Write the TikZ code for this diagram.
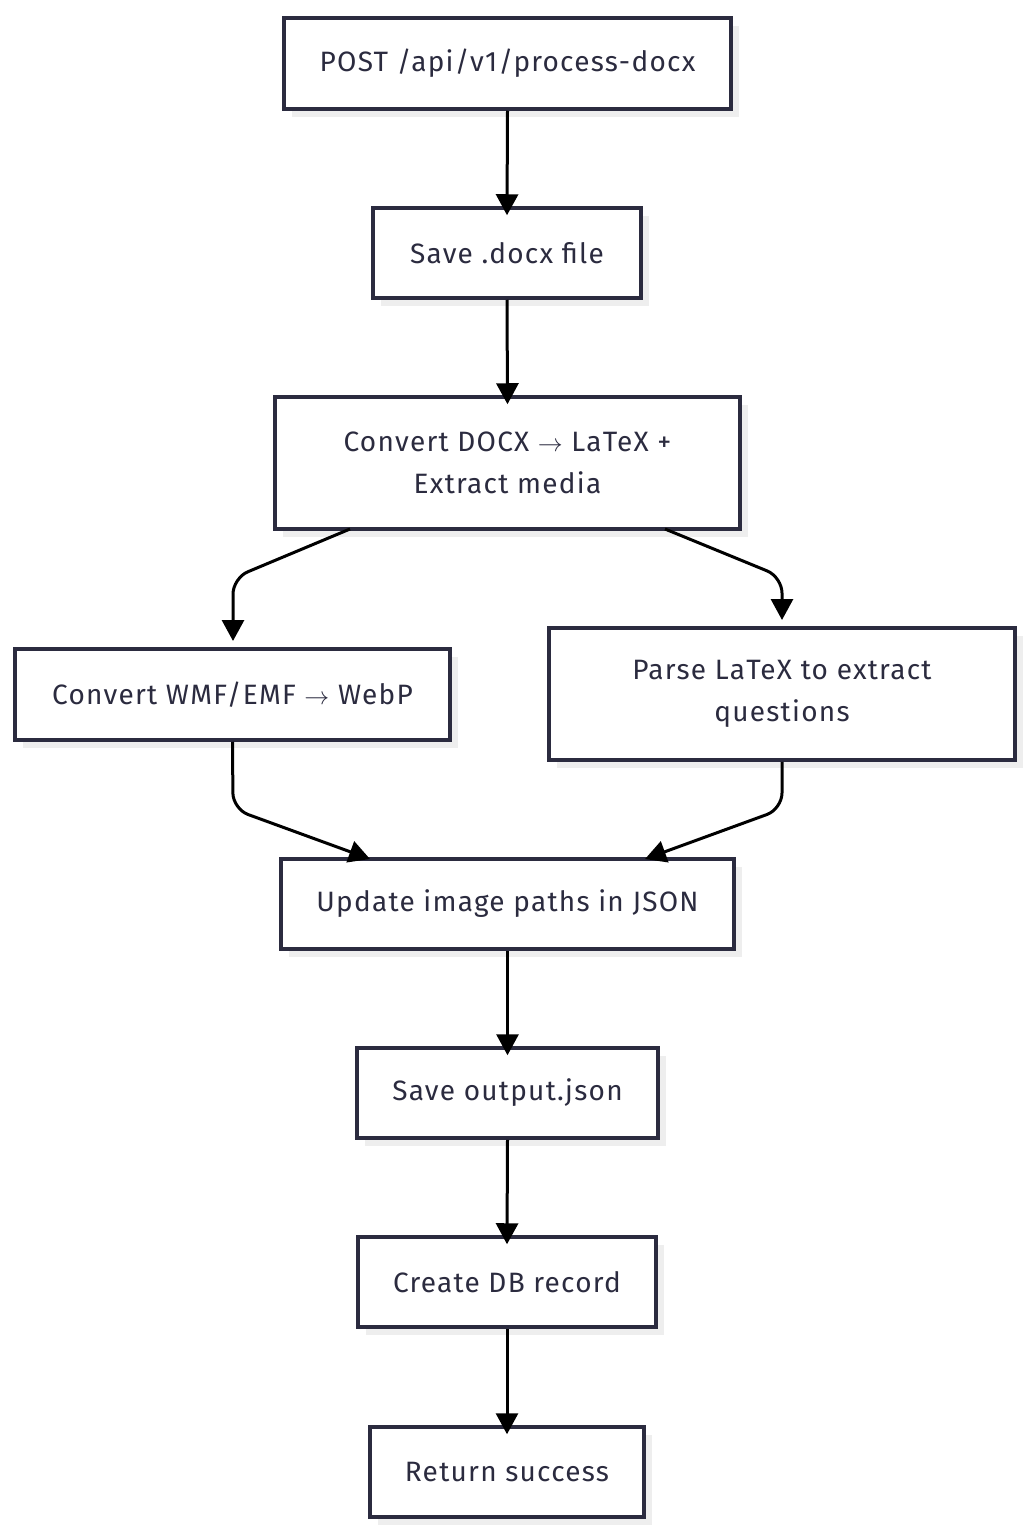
\documentclass[tikz,border=0pt]{standalone}
\usepackage{fontspec}
\setmainfont{Fira Sans}[LetterSpace=4.5]
\usetikzlibrary{arrows.meta,shadows}
\definecolor{ink}{HTML}{2B2B3F}
\definecolor{shade}{HTML}{EEEEEE}
\newcommand{\rarr}{ $\rightarrow$ }
\tikzset{
  box/.style={draw=ink, line width=3.5pt, fill=white, inner sep=0pt, align=center,
    text=ink, font=\fontsize{28}{42}\selectfont,
    general shadow={fill=shade, shadow xshift=8pt, shadow yshift=-8pt}},
  conn/.style={line width=3pt, draw=black, -{Triangle[length=21pt,width=22pt]}, rounded corners=16pt},
}
\begin{document}
\begin{tikzpicture}[x=1pt,y=-1pt]
\useasboundingbox (0,0) rectangle (1030,1536);
\node[box, minimum width=447pt, minimum height=91pt] (n1) at (507.5,63.5) {POST /api/v1/process-docx};
\node[box, minimum width=268pt, minimum height=90pt] (n2) at (507,253) {Save .docx file};
\node[box, minimum width=465pt, minimum height=132pt] (n3) at (507.5,463) {Convert DOCX\rarr LaTeX +\\Extract media};
\node[box, minimum width=435pt, minimum height=91pt] (n4) at (232.5,694.5) {Convert WMF/EMF\rarr WebP};
\node[box, minimum width=466pt, minimum height=132pt] (n5) at (782,694) {Parse LaTeX to extract\\questions};
\node[box, minimum width=453pt, minimum height=90pt] (n6) at (507.5,904) {Update image paths in JSON};
\node[box, minimum width=301pt, minimum height=90pt] (n7) at (507.5,1093) {Save output.json};
\node[box, minimum width=298pt, minimum height=90pt] (n8) at (507,1282) {Create DB record};
\node[box, minimum width=274pt, minimum height=90pt] (n9) at (507,1472) {Return success};
\coordinate (c34) at (233,578);
\coordinate (c35) at (782,577);
\coordinate (c46) at (233,809);
\coordinate (c56) at (782,809);
\coordinate (t4) at (233,641);
\coordinate (t5) at (782,620);
\coordinate (t6a) at (370,859);
\coordinate (t6b) at (645,859);
\draw[conn] (n1.south) -- ([yshift=-9pt]n2.north);
\draw[conn] (n2.south) -- ([yshift=-9pt]n3.north);
\draw[conn] (350,529) -- (c34) -- (t4);
\draw[conn] (665,529) -- (c35) -- (t5);
\draw[conn] (n4.south) -- (c46) -- (t6a);
\draw[conn] (n5.south) -- (c56) -- (t6b);
\draw[conn] (n6.south) -- ([yshift=-9pt]n7.north);
\draw[conn] (n7.south) -- ([yshift=-9pt]n8.north);
\draw[conn] (n8.south) -- ([yshift=-9pt]n9.north);
\end{tikzpicture}
\end{document}
